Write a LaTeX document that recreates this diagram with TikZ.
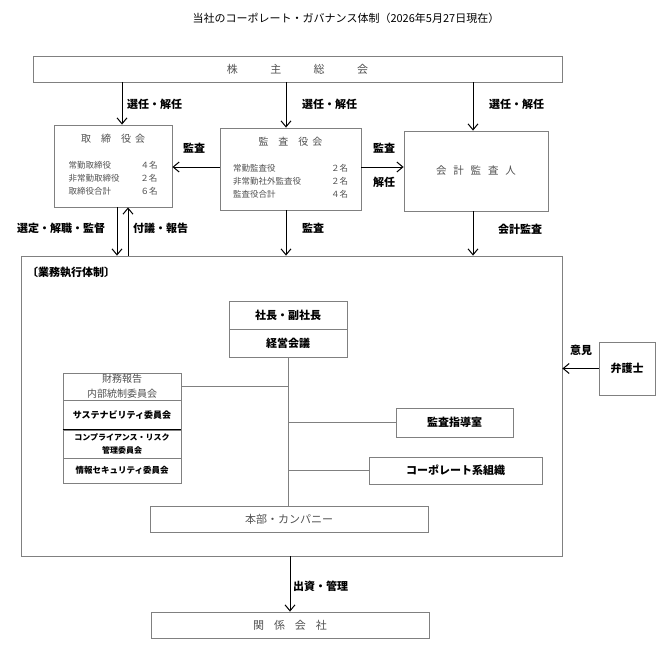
\documentclass[tikz,border=0pt]{standalone}
\usepackage{fontspec}
\newfontfamily\jp{Noto Sans CJK JP}
\usetikzlibrary{arrows.meta}
\definecolor{framegray}{RGB}{128,128,128}
\definecolor{textgray}{RGB}{80,80,80}

\tikzset{
    govstyle/.style={draw=framegray, line width=0.8pt, inner sep=0pt, text=textgray, align=center, font=\jp\fontsize{8.5}{13}\selectfont},
    boldbox/.style={text=black, font=\jp\bfseries\fontsize{11}{13}\selectfont},
    govlabel/.style={anchor=west, inner sep=0pt, font=\jp\bfseries\fontsize{11}{13}\selectfont},
    govarrow/.style={-{Straight Barb[length=6pt,width=10pt]}, line width=1pt},
    govline/.style={draw=framegray, line width=0.8pt},
}

\NewDocumentCommand{\govbox}{O{}mmmmmm}{%
\node[govstyle, #1, minimum width={(#5-#3)*1pt}, minimum height={(#6-#4)*1pt}]%chktex 36
    (#2) at ({(#3+#5)/2},{(#4+#6)/2}) {#7};%chktex 1
}

\begin{document}
\begin{tikzpicture}[x=1pt,y=-1pt]
            \useasboundingbox (0,0) rectangle (669,653);
            \node[font=\jp\fontsize{11}{12}\selectfont] (title) at (346,18) {当社のコーポレート・ガバナンス体制（2026年5月27日現在）};

            \govbox[font=\jp\fontsize{11}{13}\selectfont]{gm}{33}{56}{562}{82}{株\hspace{2.95em}主\hspace{2.95em}総\hspace{2.95em}会}
            \govbox{tor}{54}{125}{172}{207}{%
                \begin{tabular*}{89pt}{@{}l@{\extracolsep{\fill}}r@{}}
                    \multicolumn{2}{@{}c@{}}{\fontsize{10}{12}\selectfont 取\hspace{1em}締\hspace{1em}役\hspace{.4em}会}\\[13pt]
                    常勤取締役 & ４名\\
                    非常勤取締役 & ２名\\
                    取締役合計 & ６名
                \end{tabular*}}
            \govbox{kan}{220}{128}{361}{210}{%
                \begin{tabular*}{115pt}{@{}l@{\extracolsep{\fill}}r@{}}
                    \multicolumn{2}{@{}c@{}}{\fontsize{10}{12}\selectfont 監\hspace{1em}査\hspace{1em}役\hspace{.4em}会}\\[13pt]
                    常勤監査役 & ２名\\
                    非常勤社外監査役 & ２名\\
                    監査役合計 & ４名
                \end{tabular*}}
            \govbox[font=\jp\fontsize{10.5}{12}\selectfont]{aud}{404}{131}{548}{211}{会\hspace{.65em}計\hspace{.65em}監\hspace{.65em}査\hspace{.65em}人}

            \govbox{exe}{21}{256}{562}{556}{}
            \node[govlabel] (exe-label) at (27,272) {〔業務執行体制〕};

            \govbox[boldbox]{pres}{229}{301}{347}{329}{社長・副社長}
            \govbox[boldbox]{keiei}{229}{329}{347}{357}{経営会議}

            \govbox[font=\jp\fontsize{10}{15}\selectfont]{c1}{63}{373}{181}{400}{財務報告\\内部統制委員会}
            \govbox[boldbox, font=\jp\bfseries\fontsize{9}{11}\selectfont]{c2}{63}{400}{181}{430}{サステナビリティ委員会}
            \govbox[boldbox, font=\jp\bfseries\fontsize{8}{13}\selectfont]{c3}{63}{430}{181}{458}{コンプライアンス・リスク\\管理委員会}
            \govbox[boldbox, font=\jp\bfseries\fontsize{8.5}{11}\selectfont]{c4}{63}{458}{181}{483}{情報セキュリティ委員会}
            \draw[line width=0.8pt] (c3.north west) -- (c3.north east);

            \govbox[boldbox]{kansa}{396}{408}{513}{437}{監査指導室}
            \govbox[boldbox]{corp}{369}{457}{542}{484}{コーポレート系組織}
            \govbox[font=\jp\fontsize{11}{13}\selectfont]{hon}{150}{506}{428}{532}{本部・カンパニー}
            \govbox[font=\jp\fontsize{11}{13}\selectfont]{kaisha}{151}{612}{429}{638}{関\hspace{.9em}係\hspace{.9em}会\hspace{.9em}社}
            \govbox[boldbox]{lawyer}{599}{342}{655}{395}{弁護士}

            \draw[govline] (keiei.south) -- (keiei.south |- hon.north);
            \draw[govline] (c1.east) -- (c1.east -| keiei.south);
            \draw[govline] (kansa.west -| keiei.south) -- (kansa.west);
            \draw[govline] (corp.west -| keiei.south) -- (corp.west);

            \foreach \target/\dx/\lx in {tor/9/127, kan/-4.5/302, aud/-3/489} {
                \draw[govarrow] ([xshift=\dx pt]\target.north |- gm.south) -- ([xshift=\dx pt]\target.north);
                \node[govlabel] (sel-\target) at (\lx,104) {選任・解任};
            }

            \draw[govarrow] ([yshift=2pt]kan.west) -- ([yshift=2pt]kan.west -| tor.east);
            \node[govlabel] (audit-tor) at (183,148) {監査};
            \draw[govarrow] ([yshift=2pt]kan.east) -- ([yshift=2pt]kan.east -| aud.west);
            \node[govlabel] (audit-aud) at (373,148) {監査};
            \node[govlabel] (dismiss-aud) at (373,182) {解任};

            \draw[govarrow] ([xshift=4pt]tor.south) -- ([xshift=4pt]tor.south |- exe.north);
            \node[govlabel] (appoint) at (17,228) {選定・解職・監督};
            \draw[govarrow] ([xshift=15pt]tor.south |- exe.north) -- ([xshift=15pt]tor.south);
            \node[govlabel] (report) at (133,228) {付議・報告};
            \draw[govarrow] ([xshift=-4.5pt]kan.south) -- ([xshift=-4.5pt]kan.south |- exe.north);
            \node[govlabel] (audit-exe) at (302,228) {監査};
            \draw[govarrow] ([xshift=-3pt]aud.south) -- ([xshift=-3pt]aud.south |- exe.north);
            \node[govlabel] (acct-audit) at (498,229) {会計監査};

            \draw[govarrow] (lawyer.west) -- (lawyer.west -| exe.east);
            \node[govlabel] (opinion) at (570,350) {意見};
            \draw[govarrow] (kaisha.north |- exe.south) -- (kaisha.north);
            \node[govlabel] (invest) at (293,586) {出資・管理};
\end{tikzpicture}
\end{document}
